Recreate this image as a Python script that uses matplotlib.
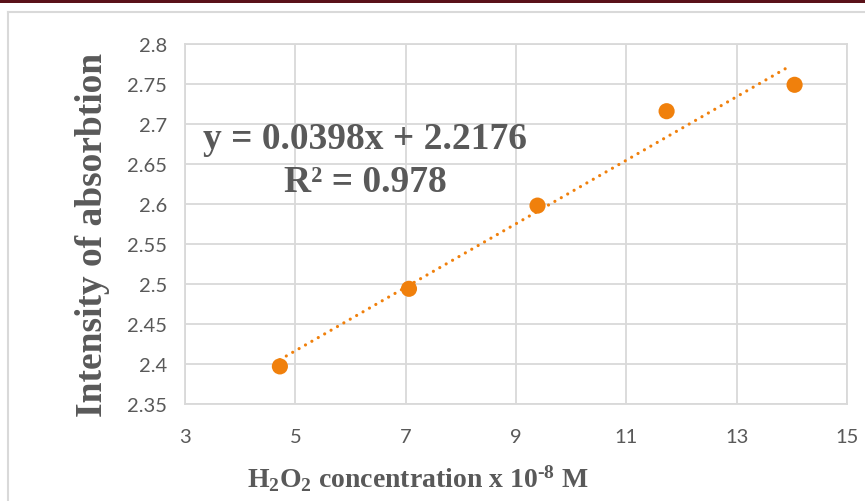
import numpy as np
import matplotlib
matplotlib.use("Agg")
import matplotlib.pyplot as plt
from matplotlib.patches import Rectangle
from matplotlib.lines import Line2D

# ---- data ----
conc = [4.72, 7.06, 9.39, 11.73, 14.05]
absorb = [2.397, 2.494, 2.598, 2.716, 2.749]
x_ticks = [3, 5, 7, 9, 11, 13, 15]
y_ticks = [2.35, 2.4, 2.45, 2.5, 2.55, 2.6, 2.65, 2.7, 2.75, 2.8]
y_tick_labels = ["2.35", "2.4", "2.45", "2.5", "2.55", "2.6", "2.65", "2.7", "2.75", "2.8"]
eq_text = "y = 0.0398x + 2.2176"
r2_text = "R² = 0.978"
x_label = r"H$_{2}$O$_{2}$ concentration x 10$^{\text{-8}}$ M"
y_label = "Intensity of absorbtion"

orange = "#f0800c"
gray_text = "#595959"
grid_col = "#d9d9d9"

plt.rcParams["mathtext.fontset"] = "custom"
plt.rcParams["mathtext.rm"] = "Liberation Serif:bold"
plt.rcParams["mathtext.it"] = "Liberation Serif:bold"
plt.rcParams["mathtext.bf"] = "Liberation Serif:bold"
plt.rcParams["mathtext.default"] = "rm"

fig = plt.figure(figsize=(8.65, 5.02), dpi=100)

# dark red top bar and light frame
fig.add_artist(Rectangle((0, 1 - 4 / 502), 1, 4 / 502, transform=fig.transFigure,
                         facecolor="#5a1219", edgecolor="none"))
fig.add_artist(Line2D([8 / 865, 8 / 865], [0, 1 - 13 / 502], transform=fig.transFigure,
                      color=grid_col, lw=1.5))
fig.add_artist(Line2D([8 / 865, 1], [1 - 13 / 502, 1 - 13 / 502], transform=fig.transFigure,
                      color=grid_col, lw=1.5))

ax = fig.add_axes([185 / 865, 1 - 405 / 502, (847 - 185) / 865, (405 - 45) / 502])
ax.set_xlim(3, 15)
ax.set_ylim(2.35, 2.8)
ax.set_xticks(x_ticks)
ax.set_yticks(y_ticks)
ax.set_yticklabels(y_tick_labels)
ax.grid(True, color=grid_col, lw=1.3)
ax.set_axisbelow(True)
for s in ax.spines.values():
    s.set_color(grid_col)
    s.set_linewidth(1.3)
ax.tick_params(length=0, colors=gray_text, labelsize=14.5)
ax.tick_params(axis="x", pad=17)
ax.tick_params(axis="y", pad=13)
for lab in ax.get_xticklabels() + ax.get_yticklabels():
    lab.set_fontfamily("Lato")

# trendline
coef = np.polyfit(conc, absorb, 1)
xs = np.array([min(conc), max(conc) - 0.08])
ax.plot(xs, np.polyval(coef, xs), color=orange, lw=2.3,
        linestyle=(0, (0.01, 2.3)), dash_capstyle="round", zorder=2)
ax.scatter(conc, absorb, s=135, color=orange, zorder=3, edgecolors="none")

ax.text(0.272, 0.737, eq_text, transform=ax.transAxes, ha="center", va="center",
        fontsize=27, fontweight="bold", family="Liberation Serif", color=gray_text)
ax.text(0.272, 0.617, r2_text, transform=ax.transAxes, ha="center", va="center",
        fontsize=27, fontweight="bold", family="Liberation Serif", color=gray_text)

fig.text(93 / 865, 1 - 235 / 502, y_label, rotation=90, ha="center", va="center",
         fontsize=27, fontweight="bold", family="Liberation Serif", color=gray_text)
fig.text(418 / 865, 1 - 479 / 502, x_label, ha="center", va="center",
         fontsize=20, fontweight="bold", family="Liberation Serif", color=gray_text)

fig.savefig("out.png", dpi=100, facecolor="white")
